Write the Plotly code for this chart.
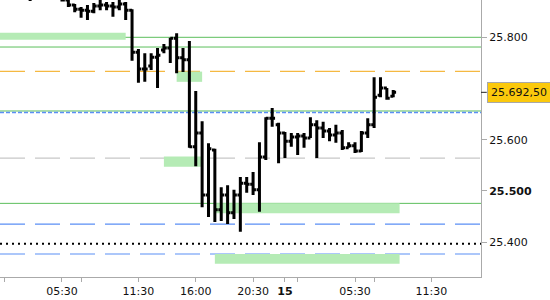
import plotly.graph_objects as go

# ---- 30-minute slots (session break 23:00-23:30) ----
slots = [f"14 {h:02d}:{m:02d}" for h in range(0, 23) for m in (0, 30)]
slots += [f"15 {h:02d}:{m:02d}" for h in range(0, 16) for m in (0, 30)]
bar_start = "14 01:00"

opens = [25905, 25910, 25919, 25912, 25894, 25886, 25901, 25897, 25890,
         25879, 25873, 25863, 25855, 25853, 25851, 25861, 25863, 25861, 25859,
         25865, 25853, 25771, 25738, 25744, 25761, 25775, 25779, 25798, 25760,
         25756, 25586, 25613, 25492, 25580, 25463, 25492, 25457, 25492, 25515,
         25513, 25502, 25566, 25642, 25629, 25613, 25597, 25605, 25607, 25603,
         25629, 25623, 25617, 25609, 25613, 25584, 25588, 25578, 25613, 25629,
         25687, 25701, 25685]
highs = [25921, 25928, 25934, 25925, 25903, 25907, 25915, 25908, 25899,
         25892, 25877, 25865, 25859, 25863, 25867, 25875, 25869, 25869, 25875,
         25869, 25855, 25777, 25769, 25769, 25779, 25787, 25799, 25808, 25779,
         25793, 25695, 25636, 25593, 25582, 25507, 25511, 25502, 25527, 25527,
         25537, 25595, 25644, 25662, 25633, 25615, 25613, 25613, 25613, 25644,
         25638, 25635, 25623, 25629, 25619, 25595, 25595, 25617, 25642, 25722,
         25722, 25701, 25697]
lows = [25896, 25901, 25906, 25889, 25871, 25880, 25889, 25881, 25876,
        25870, 25859, 25849, 25838, 25834, 25847, 25853, 25853, 25840, 25853,
        25834, 25754, 25711, 25713, 25736, 25701, 25769, 25750, 25730, 25732,
        25584, 25548, 25468, 25449, 25439, 25441, 25435, 25445, 25420, 25496,
        25492, 25459, 25560, 25625, 25554, 25564, 25586, 25570, 25584, 25603,
        25564, 25603, 25597, 25594, 25580, 25584, 25574, 25576, 25603, 25623,
        25683, 25678, 25683]
closes = [25910, 25919, 25912, 25894, 25886, 25901, 25897, 25890, 25879,
          25873, 25863, 25855, 25853, 25851, 25861, 25863, 25861, 25859, 25865,
          25853, 25771, 25738, 25738, 25761, 25765, 25779, 25798, 25760, 25756,
          25586, 25613, 25492, 25582, 25463, 25492, 25457, 25492, 25515, 25513,
          25502, 25566, 25642, 25642, 25613, 25597, 25605, 25607, 25603, 25629,
          25623, 25617, 25609, 25613, 25584, 25588, 25578, 25613, 25629, 25683,
          25701, 25681, 25692.5]

# ---- horizontal levels: (price, colour, dash, width) ----
level_prices = [25800, 25781, 25733.5, 25656, 25653, 25564, 25475.5, 25435, 25396.5, 25376.5]
level_colors = ["#5cbf5c", "#5cbf5c", "#f5b942", "#5cbf5c", "#5b8ff5", "#c8c8c8",
                "#5cbf5c", "#5b8ff5", "#000000", "#5b8ff5"]
level_dashes = ["solid", "solid", "25px,10px", "solid", "4px,2px", "25px,10px",
                "solid", "25px,10px", "2px,4px", "25px,10px"]
level_widths = [1, 1, 1.2, 1, 1.5, 1.2, 1, 1.2, 2, 1.2]

# ---- zones ----
zone_from = ["14 00:00", "14 14:30", "14 13:30", "14 17:30", "14 17:30"]
zone_to = ["14 10:30", "14 16:30", "14 16:30", "15 09:00", "15 09:00"]
zone_low = [25795, 25713, 25547, 25456, 25357.5]
zone_high = [25809, 25733, 25567, 25475.5, 25376.5]

# ---- axis ticks ----
x_tick_slots = ["14 01:00", "14 05:30", "14 07:00", "14 11:30", "14 16:00", "14 20:30",
                "15 00:00", "15 01:00", "15 05:30", "15 07:00", "15 11:30"]
x_tick_text = ["", "05:30", "", "11:30", "16:00", "20:30", "<b>15</b>", "", "05:30", "", "11:30"]
y_tick_vals = [25400, 25500, 25600, 25800]
y_tick_text = ["25.400", "<b>25.500</b>", "25.600", "25.800"]

pos = {s: i for i, s in enumerate(slots)}
start = pos[bar_start]
bar_x = list(range(start, start + len(opens)))

fig = go.Figure()
fig.add_trace(go.Ohlc(
    x=bar_x, open=opens, high=highs, low=lows, close=closes,
    increasing=dict(line=dict(color="black", width=3)),
    decreasing=dict(line=dict(color="black", width=3)),
    tickwidth=0.45, hoverinfo="skip", showlegend=False))

shapes = []
for a, b, lo, hi in zip(zone_from, zone_to, zone_low, zone_high):
    shapes.append(dict(type="rect", xref="x", yref="y", x0=pos[a], x1=pos[b], y0=lo, y1=hi,
                       fillcolor="#b5ebb5", line=dict(width=0), layer="below"))
for p, c, d, w in zip(level_prices, level_colors, level_dashes, level_widths):
    shapes.append(dict(type="line", xref="paper", yref="y", x0=0, x1=1, y0=p, y1=p,
                       line=dict(color=c, dash=d, width=w), layer="below"))
last = closes[-1]
shapes.append(dict(type="line", xref="paper", yref="y", x0=1.0, x1=1.012, y0=last, y1=last,
                   line=dict(color="#222222", width=1)))

label = f"{last:,.2f}".replace(",", "X").replace(".", ",").replace("X", ".")

fig.update_layout(
    width=550, height=300,
    margin=dict(l=0, r=69, t=0, b=23),
    paper_bgcolor="white", plot_bgcolor="white",
    font=dict(family="DejaVu Sans", size=11, color="#111111"),
    shapes=shapes,
    xaxis=dict(range=[1.27, 76.78], rangeslider=dict(visible=False),
               tickvals=[pos[s] for s in x_tick_slots], ticktext=x_tick_text,
               ticks="outside", ticklen=4, tickcolor="#aaaaaa",
               showline=True, linecolor="#aaaaaa", linewidth=1,
               showgrid=False, zeroline=False, fixedrange=True),
    yaxis=dict(range=[25331.6, 25872.9], side="right",
               tickvals=y_tick_vals, ticktext=y_tick_text,
               ticks="outside", ticklen=5, tickcolor="#aaaaaa",
               showline=True, linecolor="#aaaaaa", linewidth=1,
               showgrid=False, zeroline=False),
    annotations=[dict(xref="paper", yref="y", x=1.012, y=last, xanchor="left", yanchor="middle",
                      text=label, showarrow=False, bgcolor="#fbc90c", bordercolor="#a8a8a8",
                      borderwidth=1, borderpad=3, font=dict(size=11, color="#111111"))],
)

fig.write_html("out.html")
